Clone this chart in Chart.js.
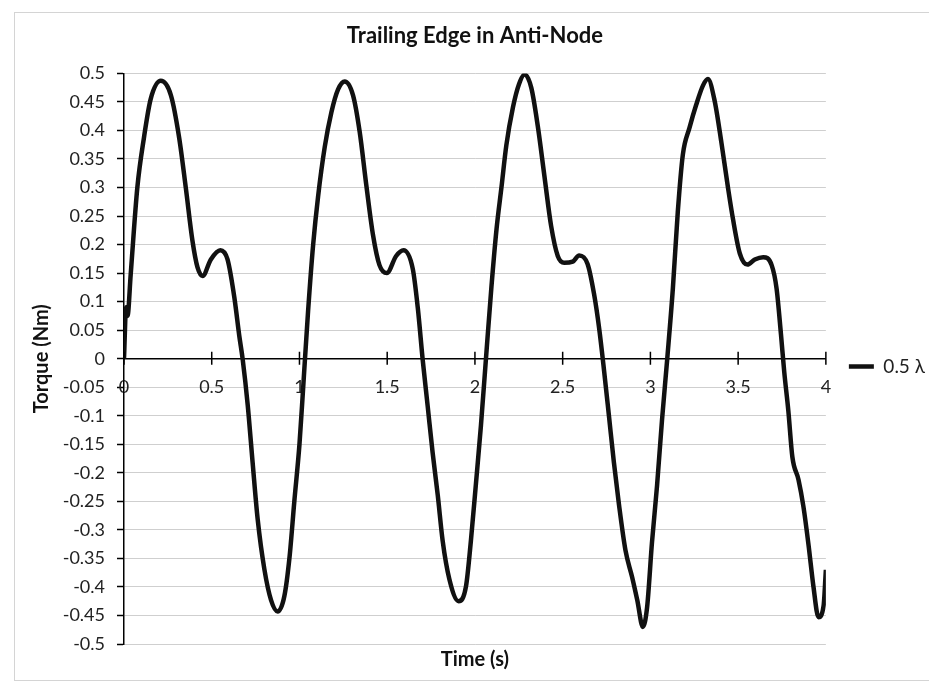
<!DOCTYPE html>
<html>
<head>
<meta charset="utf-8">
<script src="https://cdn.jsdelivr.net/npm/chart.js@4"></script>
<style>
  html, body { margin: 0; padding: 0; background: #fff; }
  #wrap { width: 929px; height: 684px; }
</style>
</head>
<body>
<div id="wrap"><canvas id="torqueChart" width="929" height="684"></canvas></div>
<script>
// values
const seriesName = '0.5 λ';
const timeS = [
    0, 0.012, 0.02, 0.038, 0.076, 0.114, 0.152, 0.21, 0.267, 0.314, 0.352, 0.39, 0.419, 0.448, 0.495, 0.549, 0.59, 0.629, 0.657, 0.676,
    0.705, 0.733, 0.762, 0.8, 0.838, 0.876, 0.914, 0.943, 0.971, 1.0, 1.021, 1.049, 1.078, 1.106, 1.144, 1.182, 1.22, 1.258, 1.305, 1.343,
    1.381, 1.419, 1.456, 1.498, 1.551, 1.593, 1.646, 1.674, 1.703, 1.731, 1.759, 1.788, 1.816, 1.854, 1.907, 1.949, 1.977, 2.006, 2.034, 2.064,
    2.094, 2.123, 2.151, 2.179, 2.217, 2.251, 2.283, 2.321, 2.358, 2.396, 2.434, 2.472, 2.509, 2.557, 2.594, 2.642, 2.679, 2.708, 2.736, 2.764,
    2.792, 2.821, 2.858, 2.896, 2.925, 2.957, 2.981, 3.009, 3.038, 3.066, 3.096, 3.128, 3.156, 3.185, 3.223, 3.261, 3.3, 3.328, 3.366, 3.405,
    3.443, 3.471, 3.51, 3.553, 3.595, 3.643, 3.691, 3.719, 3.744, 3.763, 3.786, 3.809, 3.844, 3.872, 3.901, 3.929, 3.958, 3.987, 4.0
];
const torqueNm = [
    0, 0.09, 0.075, 0.147, 0.30, 0.388, 0.455, 0.487, 0.462, 0.388, 0.30, 0.207, 0.16, 0.145, 0.174, 0.19, 0.174, 0.107, 0.04, 0,
    -0.081, -0.182, -0.282, -0.369, -0.423, -0.443, -0.416, -0.349, -0.249, -0.15, -0.051, 0.083, 0.2, 0.284, 0.371, 0.432, 0.472, 0.486, 0.462, 0.398,
    0.304, 0.217, 0.164, 0.15, 0.18, 0.19, 0.157, 0.09, -0.004, -0.084, -0.165, -0.239, -0.319, -0.386, -0.425, -0.399, -0.319, -0.218, -0.118, 0.005,
    0.126, 0.227, 0.30, 0.374, 0.441, 0.481, 0.498, 0.475, 0.408, 0.32, 0.233, 0.18, 0.168, 0.17, 0.181, 0.166, 0.113, 0.053, -0.021, -0.101,
    -0.182, -0.256, -0.336, -0.383, -0.423, -0.47, -0.436, -0.322, -0.222, -0.108, 0, 0.123, 0.257, 0.358, 0.405, 0.445, 0.479, 0.49, 0.452, 0.378,
    0.298, 0.244, 0.184, 0.165, 0.174, 0.178, 0.164, 0.123, 0.043, -0.024, -0.091, -0.172, -0.212, -0.259, -0.326, -0.399, -0.453, -0.433, -0.37
];
const xTicks = [0, 0.5, 1, 1.5, 2, 2.5, 3, 3.5, 4];
const yMin = -0.5, yMax = 0.5, yStep = 0.05;

const points = timeS.map((t, i) => ({ x: t, y: torqueNm[i] }));
const fontFamily = 'Lato, "Open Sans", sans-serif';

// white page + thin frame, and Excel style cross ticks on the time axis
const excelLook = {
    id: 'excelLook',
    beforeDraw(chart) {
        const ctx = chart.ctx;
        ctx.save();
        ctx.fillStyle = '#fff';
        ctx.fillRect(0, 0, chart.width, chart.height);
        ctx.strokeStyle = '#d4d4d4';
        ctx.lineWidth = 1;
        ctx.strokeRect(14.5, 12.5, chart.width, chart.height - 16);
        ctx.restore();
    },
    afterDatasetsDraw(chart) {
        const xs = chart.scales.x, ys = chart.scales.y;
        const y0 = ys.getPixelForValue(0);
        const ctx = chart.ctx;
        ctx.save();
        ctx.strokeStyle = '#000';
        ctx.lineWidth = 1.5;
        ctx.beginPath();
        xTicks.forEach(v => {
            const px = xs.getPixelForValue(v);
            ctx.moveTo(px, y0 - 7);
            ctx.lineTo(px, y0 + 6);
        });
        ctx.stroke();
        ctx.restore();
    }
};

const fmt = v => String(+(+v).toFixed(2));

new Chart(document.getElementById('torqueChart'), {
    type: 'scatter',
    data: {
        datasets: [{
            label: seriesName,
            data: points,
            showLine: true,
            borderColor: '#111',
            backgroundColor: '#111',
            borderWidth: 4.5,
            pointRadius: 0,
            pointStyle: 'line',
            cubicInterpolationMode: 'monotone'
        }]
    },
    options: {
        responsive: false,
        animation: false,
        layout: { padding: { left: 14, right: -6, top: 0, bottom: 0 } },
        scales: {
            x: {
                type: 'linear',
                min: 0,
                max: 4,
                position: { y: 0 },
                afterBuildTicks: s => { s.ticks = xTicks.map(v => ({ value: v })); },
                grid: { drawOnChartArea: false, drawTicks: false },
                border: { color: '#000', width: 1.5 },
                ticks: { callback: fmt, color: '#222', padding: 18, maxRotation: 0, font: { family: fontFamily, size: 18 } }
            },
            y: {
                min: yMin,
                max: yMax,
                afterFit: s => { s.width = 110; },
                ticks: { stepSize: yStep, callback: fmt, color: '#222', padding: 12, font: { family: fontFamily, size: 18 } },
                grid: { color: '#cfcfcf', lineWidth: 1, tickColor: '#000', tickLength: 7, tickWidth: 1.5 },
                border: { color: '#000', width: 1.5 },
                title: { display: true, text: 'Torque (Nm)', color: '#111', padding: { top: 16, bottom: 0 }, font: { family: fontFamily, size: 20, weight: 'bold' } }
            }
        },
        plugins: {
            title: {
                display: true,
                fullSize: false,
                text: 'Trailing Edge in Anti-Node',
                color: '#111',
                padding: { top: 23, bottom: 24 },
                font: { family: fontFamily, size: 22, weight: 'bold' }
            },
            subtitle: {
                display: true,
                fullSize: false,
                position: 'bottom',
                text: 'Time (s)',
                color: '#111',
                padding: { top: 4, bottom: 12 },
                font: { family: fontFamily, size: 20, weight: 'bold' }
            },
            legend: {
                position: 'right',
                fullSize: false,
                title: { display: true, text: ' ', padding: 0, font: { size: 13 } },
                labels: {
                    usePointStyle: true,
                    pointStyleWidth: 25,
                    boxWidth: 25,
                    padding: 23,
                    color: '#222',
                    font: { family: fontFamily, size: 19 }
                }
            },
            tooltip: { enabled: false }
        }
    },
    plugins: [excelLook]
});
</script>
</body>
</html>
